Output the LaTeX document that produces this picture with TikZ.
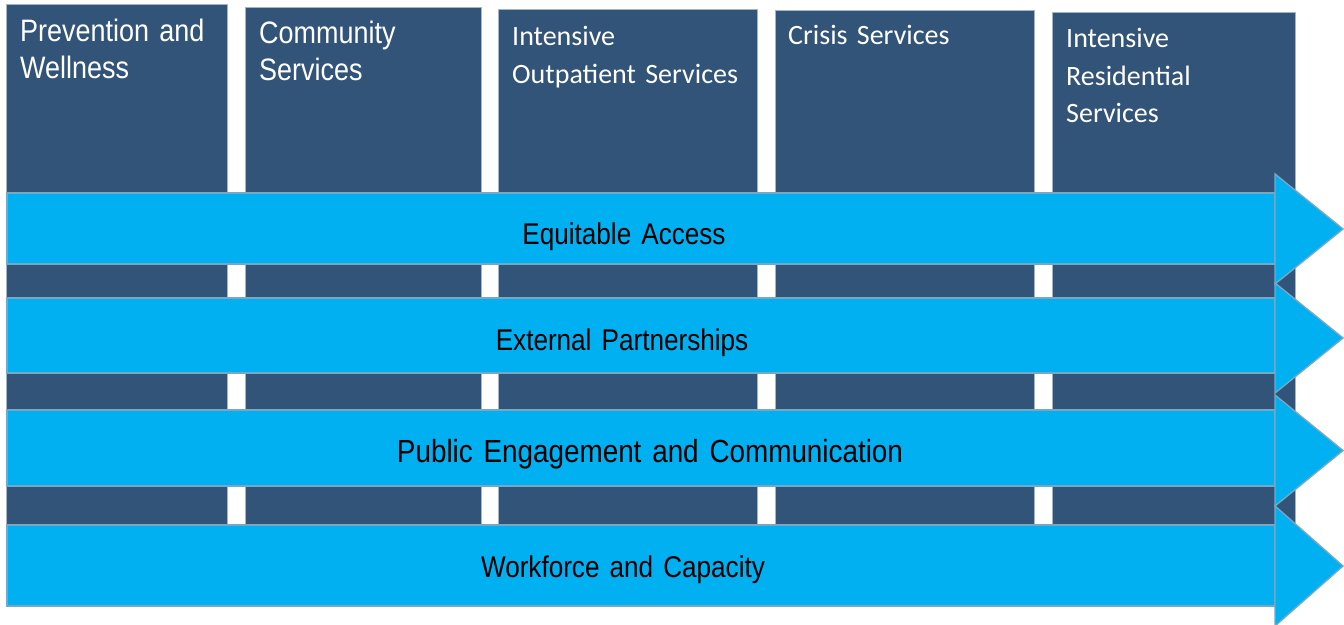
\documentclass[tikz,border=0pt]{standalone}
\usepackage{fontspec}
\newfontfamily\pillarfont[FakeStretch=0.87,WordSpace=1.4]{Liberation Sans}
\newfontfamily\servicefont{Carlito}
\definecolor{pillarblue}{HTML}{325479}
\definecolor{pillaredge}{HTML}{A3B4C6}
\definecolor{bandblue}{HTML}{00B0F0}
\definecolor{bandedge}{HTML}{76A8C6}
\tikzset{
  pillar/.style={fill=pillarblue,draw=pillaredge,line width=0.8bp,inner sep=0pt,outer sep=0pt,anchor=north west},
  band/.style={fill=bandblue,draw=bandedge,line width=1.4bp,line join=miter},
  arialhead/.style={text=white,anchor=base west,inner sep=0pt,align=left,text width=215bp,
    font=\pillarfont\fontsize{31bp}{37bp}\selectfont},
  calibrihead/.style={text=white,anchor=base west,inner sep=0pt,align=left,text width=240bp,
    font=\servicefont\fontsize{28bp}{37.5bp}\selectfont},
  bandlabel/.style={text=black,anchor=base,inner sep=0pt,
    font=\pillarfont\fontsize{30bp}{36bp}\selectfont}
}
% one horizontal band: body top, body bottom, head top, head bottom
\newcommand\bandarrow[4]{%
  \draw[band] (7,#1) rectangle (1275,#2);
  \draw[band] (1275,#3) -- (1343,{(#3+#4)/2}) -- (1275,#4) -- cycle;}
\begin{document}
\begin{tikzpicture}[x=1bp,y=-1bp]
\useasboundingbox (0,0) rectangle (1344,625);

% service pillars
\node[pillar,minimum width=221bp,minimum height=526bp] (p1) at (6,4) {};
\node[pillar,minimum width=236bp,minimum height=523bp] (p2) at (245,7) {};
\node[pillar,minimum width=259bp,minimum height=521bp] (p3) at (498,9) {};
\node[pillar,minimum width=259bp,minimum height=520bp] (p4) at (775,10) {};
\node[pillar,minimum width=243bp,minimum height=518bp] (p5) at (1052,12) {};

\node[arialhead] (h1) at (20,42) {Prevention and\\Wellness};
\node[arialhead] (h2) at (259,44) {Community\\Services};
\node[calibrihead] (h3) at (512,46) {Intensive\\Outpatient Services};
\node[calibrihead] (h4) at (788,45) {Crisis Services};
\node[calibrihead] (h5) at (1066,48) {Intensive\\Residential\\Services};

% cross-cutting bands
\bandarrow{193}{264}{174}{284}
\bandarrow{298}{373}{283}{393}
\bandarrow{410}{486}{395}{506}
\bandarrow{525}{606}{506}{626}

\node[bandlabel] (b1) at (624,244) {Equitable Access};
\node[bandlabel] (b2) at (622,350) {External Partnerships};
\node[bandlabel,font=\pillarfont\fontsize{32bp}{38bp}\selectfont] (b3) at (650,462) {Public Engagement and Communication};
\node[bandlabel] (b4) at (623,577) {Workforce and Capacity};
\end{tikzpicture}
\end{document}
